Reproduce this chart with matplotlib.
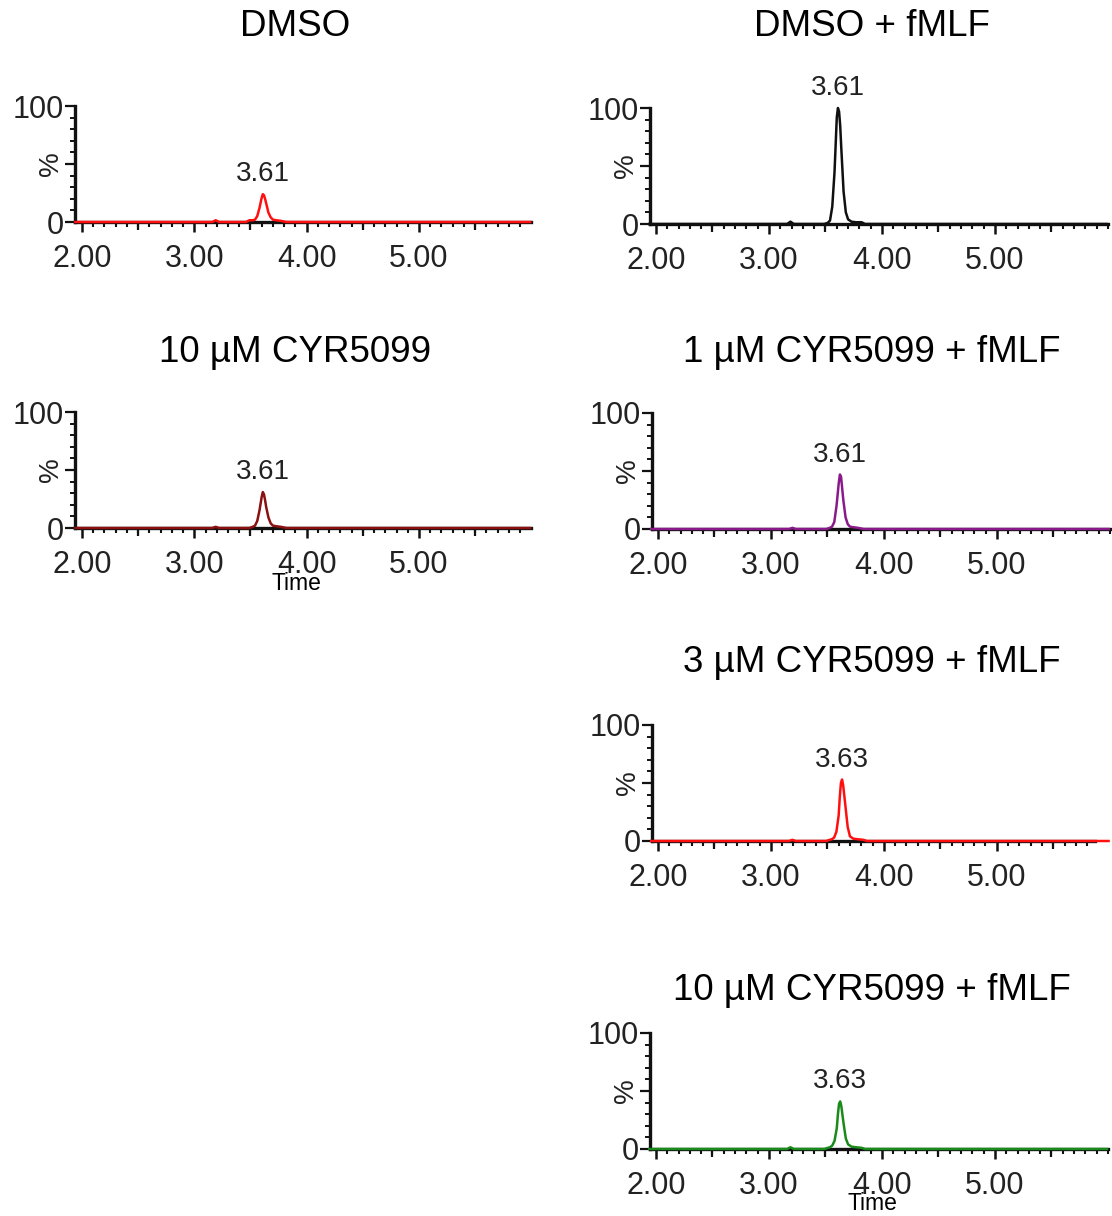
import matplotlib
matplotlib.use("Agg")
import matplotlib.pyplot as plt
from matplotlib.ticker import MultipleLocator, FixedLocator, NullFormatter

plt.rcParams['font.family'] = ['Liberation Sans', 'DejaVu Sans']

W, H = 1112, 1216

# ---- data ----
titles = ["DMSO", "DMSO + fMLF", "10 µM CYR5099", "1 µM CYR5099 + fMLF",
          "3 µM CYR5099 + fMLF", "10 µM CYR5099 + fMLF"]
peak_times = [3.61, 3.61, 3.61, 3.61, 3.63, 3.63]
time_min = [1.94, 3.16, 3.19, 3.22, 3.46, 3.49, 3.52, 3.54, 3.56, 3.58, 3.60, 3.61,
            3.62, 3.63, 3.64, 3.66, 3.68, 3.70, 3.73, 3.77, 3.82, 3.85, 5.99]
int_dmso = [0, 0, 1.5, 0, 0, 1.5, 1.5, 2, 5, 12, 21, 24, 23, 20, 16, 8, 4, 2, 1.5, 1, 0, 0, 0]
int_dmso_fmlf = [0, 0, 2, 0, 0, 0, 1, 3, 15, 45, 92, 100, 97, 85, 65, 28, 10, 4, 2, 1.5, 1.5, 0, 0]
int_cyr10 = [0, 0, 1, 0, 0, 0, 1, 2, 6, 15, 27, 31, 29, 24, 18, 9, 4, 2, 1.5, 1, 0, 0, 0]
int_cyr1_fmlf = [0, 0, 1, 0, 0, 0, 1, 2, 6, 20, 40, 47, 45, 35, 25, 10, 4, 2, 1.5, 1, 0, 0, 0]
int_cyr3_fmlf = [0, 0, 1, 0, 0, 0, 1, 1.5, 3, 8, 22, 38, 50, 53, 48, 30, 12, 4, 2, 1.5, 1, 0, 0]
int_cyr10_fmlf = [0, 0, 1.5, 0, 0, 0, 1, 1.5, 3, 7, 18, 30, 39, 41, 37, 22, 9, 4, 2, 1.5, 1, 0, 0]
intensities = [int_dmso, int_dmso_fmlf, int_cyr10, int_cyr1_fmlf, int_cyr3_fmlf, int_cyr10_fmlf]
colors = ["#ff1010", "#101010", "#8b1010", "#8a1a8a", "#ff1010", "#1a8a1a"]
x_major = [2, 3, 4, 5]
x_labels = ["2.00", "3.00", "4.00", "5.00"]
x_half = [2.5, 3.5, 4.5, 5.5]

# ---- layout (pixels) ----
# (left, right, y100, y0, xmin, xmax)
layout = [
    (75, 531, 106, 222, 1.938, 5.997),
    (650, 1108, 108, 224, 1.947, 6.0),
    (75, 531, 412, 528, 1.938, 5.997),
    (652, 1110, 413, 529, 1.947, 6.0),
    (652, 1095, 725, 841, 1.947, 5.87),
    (650, 1108, 1033, 1149, 1.947, 6.0),
]
title_pos = [(295, 27), (872, 27), (295, 352), (872, 352), (872, 663), (872, 990)]

fig = plt.figure(figsize=(W / 100, H / 100), dpi=100)

for i in range(6):
    l, r, y100, y0, xmin, xmax = layout[i]
    ax = fig.add_axes([l / W, 1 - y0 / H, (r - l) / W, (y0 - y100) / H])
    ax.set_xlim(xmin, xmax)
    ax.set_ylim(0, 100)
    for s in ("top", "right"):
        ax.spines[s].set_visible(False)
    for s in ("left", "bottom"):
        ax.spines[s].set_linewidth(2.4)
        ax.spines[s].set_color("#111111")
        ax.spines[s].set_capstyle("projecting")
    ax.patch.set_alpha(0)

    ax.plot(time_min, intensities[i], color=colors[i], lw=1.8, clip_on=False, zorder=5)

    ax.xaxis.set_major_locator(FixedLocator(x_major))
    ax.set_xticklabels(x_labels)
    ax.xaxis.set_minor_locator(MultipleLocator(0.1))
    ax.tick_params(axis="x", which="major", length=7.5, width=1.8, pad=8,
                   labelsize=22, labelcolor="#222222", color="#111111")
    ax.tick_params(axis="x", which="minor", length=3.8, width=1.5, color="#111111")

    sec = ax.secondary_xaxis("bottom")
    sec.spines["bottom"].set_visible(False)
    sec.xaxis.set_major_locator(FixedLocator(x_half))
    sec.xaxis.set_major_formatter(NullFormatter())
    sec.tick_params(axis="x", which="major", length=5.5, width=1.6, color="#111111")

    ax.yaxis.set_major_locator(FixedLocator([0, 50, 100]))
    ax.set_yticklabels(["0", "%", "100"])
    ax.yaxis.set_minor_locator(MultipleLocator(10))
    ax.tick_params(axis="y", which="major", length=7, width=1.6, pad=1,
                   labelsize=22, labelcolor="#222222", color="#111111")
    ax.tick_params(axis="y", which="minor", length=3.8, width=1.4, color="#111111")
    pl = ax.get_yticklabels()[1]
    pl.set_rotation(90)
    pl.set_va("center")
    pl.set_fontsize(20)

    pk = max(intensities[i])
    ax.annotate(f"{peak_times[i]:.2f}", xy=(peak_times[i], pk), xytext=(0, 5),
                textcoords="offset points", ha="center", va="bottom",
                fontsize=20, color="#222222", annotation_clip=False)

    tx, ty = title_pos[i]
    fig.text(tx / W, 1 - ty / H, titles[i], ha="center", va="center", fontsize=26.5)

fig.text(296 / W, 1 - 584 / H, "Time", ha="center", va="center", fontsize=16.5)
fig.text(872 / W, 1 - 1204 / H, "Time", ha="center", va="center", fontsize=16.5)

fig.savefig("out.png", dpi=100, facecolor="white")
